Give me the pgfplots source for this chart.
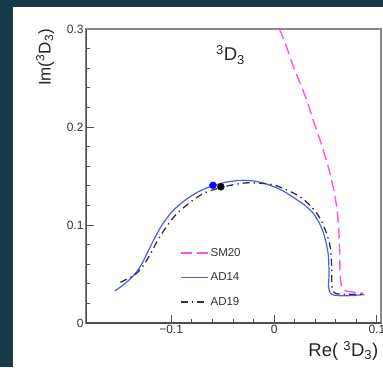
\documentclass[border=0pt]{standalone}
\usepackage{pgfplots}
\pgfplotsset{compat=1.18}
\usepackage{fontspec}
\setmainfont{Liberation Sans}

\definecolor{frameteal}{HTML}{173A4A}
\definecolor{ad14blue}{HTML}{4F5BF0}
\definecolor{sm20pink}{HTML}{FF55F0}
\definecolor{ad19gray}{HTML}{333333}
\definecolor{axisdark}{HTML}{505050}
\definecolor{axislight}{HTML}{8A8A8A}

\begin{document}
\begin{tikzpicture}[x=1pt,y=1pt]
\path[use as bounding box] (-86,-44) rectangle (297,323);
\clip (-86,-44) rectangle (297,323);
\fill[frameteal] (-86,-44) rectangle (297,323);
\fill[white] (-73,-44) rectangle (297,316);
\begin{axis}[
  at={(0,0)}, anchor=south west,
  scale only axis, width=295pt, height=294pt,
  xmin=-0.183, xmax=0.104, ymin=0, ymax=0.3,
  axis line style={draw=axislight, line width=1.1pt},
  tick align=inside, xtick pos=left, ytick pos=left,
  major tick length=8pt, minor tick length=4pt,
  minor x tick num=4, minor y tick num=4,
  tick style={color=axisdark, line width=0.8pt},
  xtick={-0.1,0,0.1}, xticklabels={−0.1,0,0.1},
  ytick={0,0.1,0.2,0.3}, yticklabels={0,0.1,0.2,0.3},
  ticklabel style={font=\fontsize{12}{14}\selectfont, text=black!80},
  xticklabel style={yshift=1pt},
  yticklabel style={xshift=1pt},
  xlabel={Re( \textsuperscript{3}D\textsubscript{3})},
  xlabel style={at={(axis description cs:1,0)}, anchor=north east,
    inner sep=0pt, yshift=-18pt, xshift=-2.5pt,
    font=\fontsize{18.5}{20}\selectfont, text=black!85},
  ylabel={Im(\textsuperscript{3}D\textsubscript{3})},
  ylabel style={at={(axis description cs:-0.139,1)}, anchor=east,
    inner sep=0pt, font=\fontsize{17}{19}\selectfont, text=black!85},
  legend style={draw=none, fill=none, at={(axis description cs:0.3186,0.262)},
    anchor=north west, inner sep=0pt, row sep=11pt,
    font=\fontsize{11.5}{13}\selectfont, text=black!80,
    cells={anchor=west}},
  legend image code/.code={\draw[#1] (0pt,0pt) -- (27pt,0pt);},
  /tikz/every even column/.append style={column sep=3pt},
]

% SM20
\addplot[sm20pink, line width=1.4pt, dash pattern=on 11pt off 5pt, smooth, tension=0.4] coordinates {
(0.0052,0.300) (0.012,0.282) (0.0188,0.2616) (0.0255,0.244) (0.0317,0.2276)
(0.038,0.207) (0.0447,0.1867) (0.050,0.169) (0.0544,0.1527) (0.058,0.136)
(0.0609,0.1187) (0.0625,0.102) (0.0634,0.0847) (0.0638,0.070) (0.064,0.0575)
(0.0645,0.046) (0.0655,0.038) (0.0689,0.033) (0.077,0.0316) (0.0867,0.0303)
};
\addlegendentry{SM20}

% AD14
\addplot[ad14blue, line width=1.2pt, smooth, tension=0.5] coordinates {
(-0.155,0.0327) (-0.1447,0.0405) (-0.135,0.0506) (-0.1285,0.0608) (-0.122,0.0745)
(-0.1155,0.088) (-0.109,0.100) (-0.0993,0.1136) (-0.0864,0.1255) (-0.0735,0.134)
(-0.0599,0.140) (-0.045,0.144) (-0.030,0.1456) (-0.015,0.144) (0,0.139) (0.010,0.134)
(0.019,0.128) (0.030,0.120) (0.038,0.112) (0.044,0.102) (0.048,0.092)
(0.051,0.080) (0.0527,0.070) (0.0533,0.058) (0.0533,0.046) (0.053,0.037)
(0.0545,0.031) (0.058,0.0285) (0.065,0.0278) (0.075,0.028) (0.088,0.029)
};
\addlegendentry{AD14}

% AD19
\addplot[ad19gray, line width=1.3pt, dash pattern=on 7pt off 4pt on 1.5pt off 4pt, smooth, tension=0.5] coordinates {
(-0.1495,0.0415) (-0.135,0.0496) (-0.127,0.059) (-0.120,0.071) (-0.114,0.083)
(-0.1058,0.0966) (-0.096,0.110) (-0.083,0.122) (-0.0686,0.1323) (-0.0524,0.138)
(-0.040,0.141) (-0.0265,0.143) (-0.012,0.1425) (0,0.1408)
(0.012,0.136) (0.025,0.129) (0.034,0.121) (0.0415,0.112) (0.047,0.102)
(0.051,0.0915) (0.054,0.081) (0.0553,0.071) (0.056,0.058) (0.056,0.0439)
(0.0565,0.036) (0.0585,0.031) (0.063,0.0295) (0.0706,0.0294) (0.088,0.0293)
};
\addlegendentry{AD19}

% marked points on the curves
\addplot[only marks, mark=*, mark size=3.5pt, color=blue, forget plot] coordinates {(-0.0595,0.1405)};
\addplot[only marks, mark=*, mark size=3.5pt, color=black, forget plot] coordinates {(-0.0518,0.139)};

% darker left and bottom frame lines
\draw[axisdark, line width=1.4pt] (axis description cs:0,1) -- (axis description cs:0,0) -- (axis description cs:1,0);

\node[font=\fontsize{18.5}{20}\selectfont, text=black!85] at (axis description cs:0.49,0.912)
  {\textsuperscript{3}D\textsubscript{3}};
\end{axis}
\end{tikzpicture}
\end{document}
